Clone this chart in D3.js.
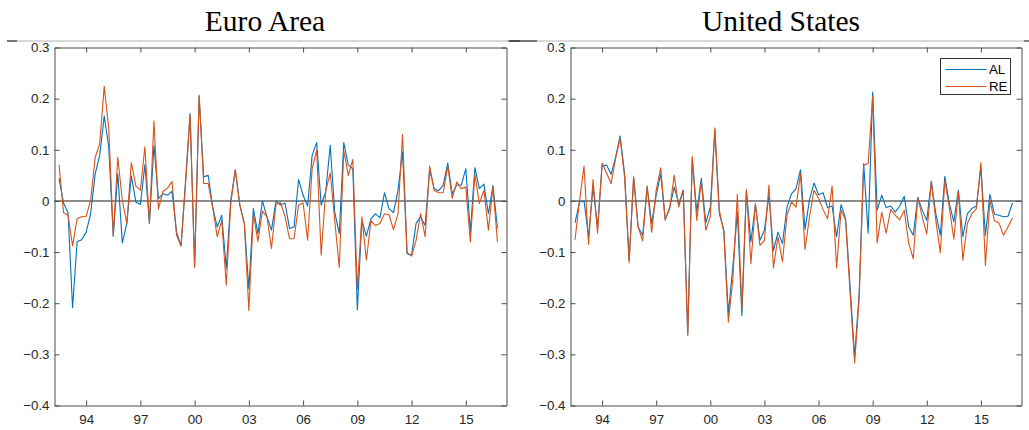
<!DOCTYPE html>
<html>
<head>
<meta charset="utf-8">
<script src="https://cdn.jsdelivr.net/npm/d3@7"></script>
<style>
  body { margin: 0; background: #fff; }
  svg { display: block; }
</style>
</head>
<body>
<div id="chart"></div>
<script>
// quarterly data, first obs 1992Q3, last 2016Q4
const firstQuarter = 1992.5;

const euroAL = [0.044,-0.004,-0.023,-0.209,-0.080,-0.076,-0.061,-0.025,0.053,0.089,
  0.166,0.106,-0.069,0.053,-0.082,-0.044,0.049,-0.002,-0.007,0.071,
  -0.044,0.109,0.005,0.014,0.011,0.019,-0.061,-0.088,0.040,0.171,
  -0.126,0.204,0.047,0.050,-0.012,-0.051,-0.028,-0.132,0.001,0.061,
  -0.008,-0.044,-0.172,-0.015,-0.064,0.000,-0.031,-0.057,0.000,-0.008,
  -0.004,-0.054,-0.051,0.042,0.011,-0.010,0.089,0.114,-0.008,0.018,
  0.109,-0.022,-0.064,0.114,0.070,0.063,-0.213,-0.038,-0.069,-0.035,
  -0.025,-0.033,0.016,-0.015,-0.023,0.021,0.096,-0.103,-0.106,-0.044,
  -0.031,-0.048,0.061,0.024,0.020,0.031,0.074,0.014,0.031,0.031,
  0.063,-0.061,0.065,0.024,0.033,-0.025,0.030,-0.054];

const euroRE = [0.071,-0.023,-0.028,-0.088,-0.035,-0.031,-0.030,0.001,0.085,0.112,
  0.224,0.142,-0.067,0.086,0.001,-0.044,0.075,0.029,0.021,0.106,
  -0.044,0.156,-0.016,0.019,0.025,0.038,-0.067,-0.088,0.034,0.168,
  -0.130,0.207,0.034,0.034,-0.012,-0.070,-0.038,-0.165,-0.005,0.061,
  -0.008,-0.044,-0.214,-0.025,-0.079,-0.020,-0.031,-0.093,-0.007,-0.003,
  -0.030,-0.074,-0.074,-0.008,-0.004,-0.077,0.063,0.100,-0.106,0.019,
  0.055,-0.038,-0.130,0.098,0.050,0.081,-0.172,-0.031,-0.116,-0.039,
  -0.048,-0.044,-0.025,-0.027,-0.056,-0.025,0.130,-0.101,-0.108,-0.077,
  -0.025,-0.070,0.068,0.021,0.016,0.016,0.068,0.005,0.037,0.024,
  0.027,-0.080,0.052,-0.005,0.021,-0.057,0.027,-0.080];

const usAL = [-0.043,-0.002,0.000,-0.070,0.027,-0.051,0.068,0.070,0.052,0.085,
  0.127,0.053,-0.116,0.046,-0.051,-0.067,0.027,-0.044,0.011,0.053,
  -0.037,-0.012,0.027,-0.005,0.021,-0.260,0.083,-0.022,0.044,-0.043,
  -0.012,0.138,-0.025,-0.057,-0.220,-0.129,-0.022,-0.224,0.021,-0.080,
  -0.007,-0.077,-0.057,0.011,-0.097,-0.061,-0.083,-0.012,0.014,0.024,
  0.061,-0.056,0.003,0.035,0.012,0.016,-0.013,-0.010,-0.070,-0.007,
  -0.035,-0.168,-0.305,-0.181,0.073,-0.063,0.213,-0.018,0.011,-0.013,
  -0.010,-0.022,-0.010,0.009,-0.051,-0.067,0.007,-0.018,-0.038,0.039,
  -0.025,-0.067,0.048,-0.005,-0.041,0.021,-0.070,-0.025,-0.015,-0.010,
  0.065,-0.067,0.013,-0.026,-0.028,-0.031,-0.030,-0.004];

const usRE = [-0.076,0.000,0.068,-0.085,0.042,-0.063,0.074,0.054,0.034,0.083,
  0.122,0.047,-0.121,0.047,-0.051,-0.078,0.029,-0.061,0.021,0.065,
  -0.037,-0.015,0.050,-0.012,0.021,-0.263,0.087,-0.038,0.038,-0.057,
  -0.031,0.143,-0.018,-0.061,-0.237,-0.152,0.013,-0.211,0.022,-0.123,
  -0.005,-0.087,-0.077,0.031,-0.131,-0.070,-0.119,-0.028,-0.002,-0.012,
  0.053,-0.095,-0.031,0.021,0.005,-0.017,-0.035,0.029,-0.131,-0.018,
  -0.038,-0.181,-0.317,-0.191,0.070,0.073,0.204,-0.082,-0.022,-0.063,
  -0.017,-0.028,-0.037,-0.018,-0.083,-0.113,0.007,-0.031,-0.065,0.037,
  -0.038,-0.101,0.040,-0.013,-0.075,0.018,-0.116,-0.044,-0.025,-0.015,
  0.075,-0.126,0.001,-0.039,-0.043,-0.067,-0.051,-0.033];

const tickYears = [1994, 1997, 2000, 2003, 2006, 2009, 2012, 2015];
const tickLabels = ["94", "97", "00", "03", "06", "09", "12", "15"];
const yTicks = [-0.4, -0.3, -0.2, -0.1, 0, 0.1, 0.2, 0.3];
const seriesNames = ["AL", "RE"];
const colors = ["#0072BD", "#D95319"];

const W = 1029, H = 430;
const svg = d3.select("#chart").append("svg")
  .attr("width", W).attr("height", H)
  .style("background", "#fff");

// top rule under the titles
svg.append("line").attr("x1", 7).attr("x2", 1025).attr("y1", 41).attr("y2", 41)
  .attr("stroke", "#b4b4b4").attr("stroke-width", 1.2);
[[7, 17], [508, 520], [510, 537], [1024, 1029]].forEach(s => {
  svg.append("line").attr("x1", s[0]).attr("x2", s[1]).attr("y1", 41).attr("y2", 41)
    .attr("stroke", "#333").attr("stroke-width", 1.2);
});

const panels = [
  { title: "Euro Area", left: 54.5, right: 506.5, titleX: 265, al: euroAL, re: euroRE, legend: false },
  { title: "United States", left: 570.5, right: 1021.5, titleX: 781, al: usAL, re: usRE, legend: true }
];

const plotTop = 47.5, plotBottom = 405.5;
const tickFont = "13.3px";

panels.forEach(p => {
  const x = d3.scaleLinear().domain([1992.25, 2017.25]).range([p.left, p.right]);
  const y = d3.scaleLinear().domain([-0.4, 0.3]).range([plotBottom, plotTop]);

  svg.append("text")
    .attr("x", p.titleX).attr("y", 31)
    .attr("text-anchor", "middle")
    .style("font-family", "'Liberation Serif', 'Times New Roman', serif")
    .style("font-size", "29.5px")
    .attr("fill", "#000")
    .text(p.title);

  const g = svg.append("g");

  // zero line
  g.append("line")
    .attr("x1", p.left).attr("x2", p.right)
    .attr("y1", y(0)).attr("y2", y(0))
    .attr("stroke", "#8c8c8c").attr("stroke-width", 2);

  const line = d3.line()
    .x((d, i) => x(firstQuarter + i / 4))
    .y(d => y(d));

  [p.al, p.re].forEach((s, k) => {
    g.append("path")
      .datum(s)
      .attr("fill", "none")
      .attr("stroke", colors[k])
      .attr("stroke-width", 1.1)
      .attr("stroke-linejoin", "round")
      .attr("d", line);
  });

  // axes, MATLAB style box with inward ticks
  const axisStyle = sel => {
    sel.select(".domain").attr("stroke", "#4d4d4d");
    sel.selectAll(".tick line").attr("stroke", "#4d4d4d");
    sel.selectAll("text")
      .style("font-family", "'Liberation Sans', Arial, sans-serif")
      .style("font-size", tickFont)
      .attr("fill", "#262626");
  };

  g.append("g").attr("transform", `translate(0,${plotBottom})`)
    .call(d3.axisBottom(x).tickValues(tickYears)
      .tickFormat((d, i) => tickLabels[i]).tickSizeInner(-5).tickSizeOuter(0).tickPadding(9.5))
    .call(axisStyle);
  g.append("g").attr("transform", `translate(0,${plotTop})`)
    .call(d3.axisTop(x).tickValues(tickYears).tickFormat("").tickSizeInner(-5).tickSizeOuter(0))
    .call(axisStyle);
  g.append("g").attr("transform", `translate(${p.left},0)`)
    .call(d3.axisLeft(y).tickValues(yTicks)
      .tickFormat(d => d === 0 ? "0" : d3.format(".1f")(d))
      .tickSizeInner(-5).tickSizeOuter(0).tickPadding(5))
    .call(axisStyle);
  g.append("g").attr("transform", `translate(${p.right},0)`)
    .call(d3.axisRight(y).tickValues(yTicks).tickFormat("").tickSizeInner(-5).tickSizeOuter(0))
    .call(axisStyle);

  if (p.legend) {
    const lg = svg.append("g").attr("transform", "translate(940.5,58.5)");
    lg.append("rect").attr("width", 70).attr("height", 36)
      .attr("fill", "#fff").attr("stroke", "#333").attr("stroke-width", 1);
    seriesNames.forEach((n, k) => {
      const yy = 11 + k * 17;
      lg.append("line").attr("x1", 5).attr("x2", 46).attr("y1", yy).attr("y2", yy)
        .attr("stroke", colors[k]).attr("stroke-width", 1.1);
      lg.append("text").attr("x", 48.5).attr("y", yy + 4.5)
        .style("font-family", "'Liberation Sans', Arial, sans-serif")
        .style("font-size", tickFont).attr("fill", "#000").text(n);
    });
  }
});
</script>
</body>
</html>
